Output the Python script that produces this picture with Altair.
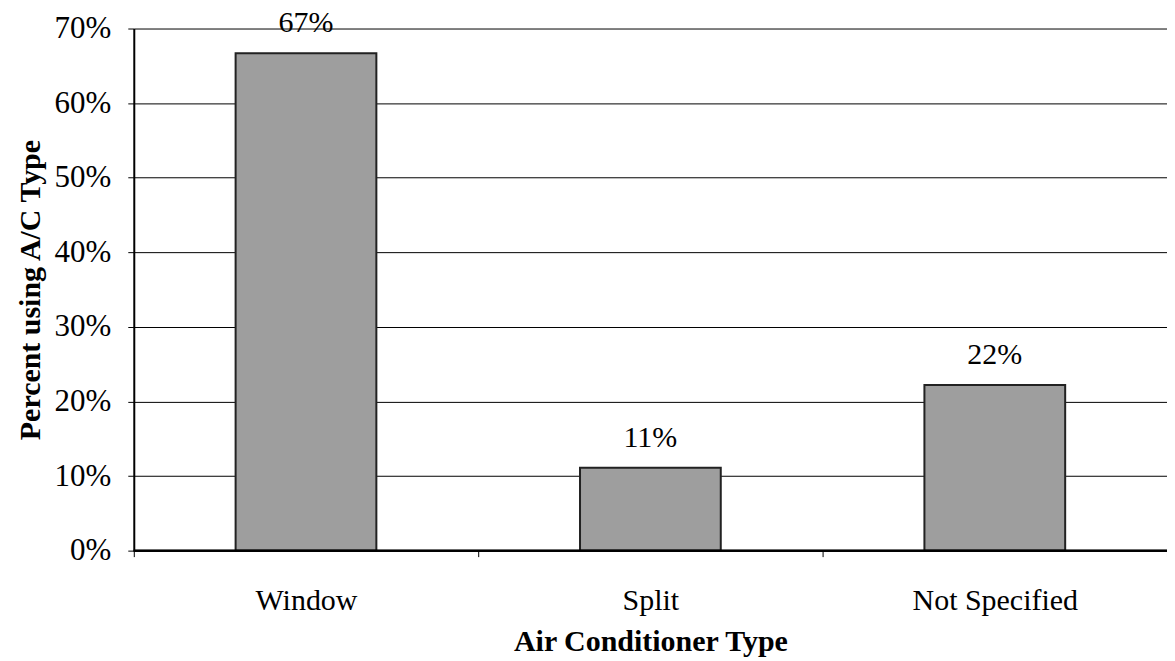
import altair as alt
import pandas as pd

categories = ["Window", "Split", "Not Specified"]
values = [0.667, 0.111, 0.222]
labels = ["67%", "11%", "22%"]

df = pd.DataFrame({"type": categories, "pct": values, "label": labels})

FONT = "Liberation Serif"

x = alt.X(
    "type:N",
    sort=categories,
    scale=alt.Scale(paddingInner=0, paddingOuter=0),
    axis=alt.Axis(
        title="Air Conditioner Type",
        labelAngle=0,
        tickBand="extent",
        domain=False,
        ticks=True,
        tickSize=6,
        tickColor="black",
        labelPadding=29,
        labelFontSize=30,
        labelFont=FONT,
        labelColor="black",
        titleFont=FONT,
        titleFontSize=30,
        titleFontWeight="bold",
        titleColor="black",
        titlePadding=11,
        grid=False,
    ),
)

y = alt.Y(
    "pct:Q",
    scale=alt.Scale(domain=[0, 0.7], nice=False),
    axis=alt.Axis(
        title="Percent using A/C Type",
        format=".0%",
        values=[0, 0.1, 0.2, 0.3, 0.4, 0.5, 0.6, 0.7],
        grid=True,
        gridColor="black",
        gridOpacity=1,
        gridWidth=1,
        domain=True,
        domainColor="black",
        domainWidth=2,
        tickSize=6,
        tickColor="black",
        labelPadding=17,
        labelFontSize=31,
        labelFont=FONT,
        labelColor="black",
        titleFont=FONT,
        titleFontSize=30,
        titleFontWeight="bold",
        titleColor="black",
        titlePadding=9,
    ),
)

bars = alt.Chart(df).mark_bar(
    size=141, color="#9e9e9e", stroke="#222222", strokeWidth=2
).encode(x=x, y=y)

text = alt.Chart(df).mark_text(
    font=FONT, fontSize=30, color="black", baseline="alphabetic", dy=-21
).encode(x=alt.X("type:N", sort=categories), y=alt.Y("pct:Q"), text="label:N")

base_line = alt.Chart(df).mark_rule(color="black", strokeWidth=2).encode(
    y=alt.datum(0), x=alt.value(0), x2=alt.value(1035)
)

chart = (
    alt.layer(bars, base_line, text)
    .properties(
        width=1035,
        height=523,
        autosize=alt.AutoSizeParams(type="none"),
        padding={"left": 126, "top": 20, "right": 0, "bottom": 110},
    )
    .configure_view(stroke=None)
)

chart.save("out.html", embed_options={"renderer": "svg", "actions": False})
